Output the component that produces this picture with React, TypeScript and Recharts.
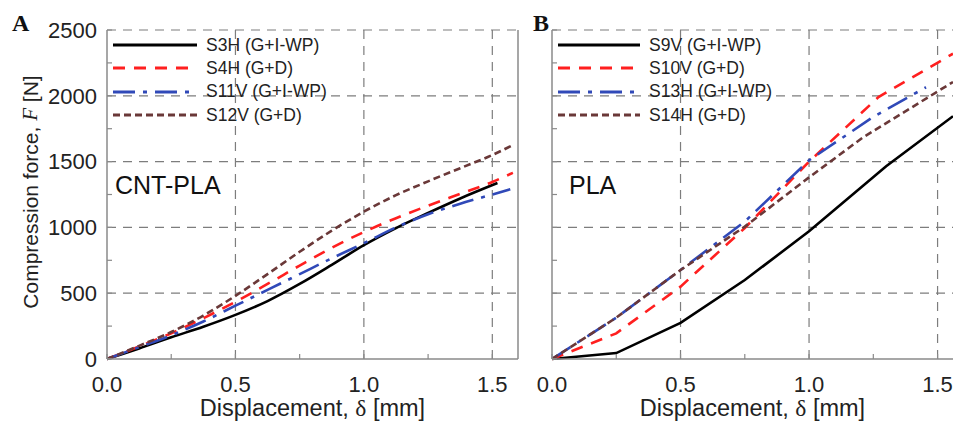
import React from 'react';
import { LineChart, Line, XAxis, YAxis, CartesianGrid, ReferenceLine, Legend, Label } from 'recharts';

// ---------- data ----------
const xTicks = [0, 0.25, 0.5, 0.75, 1, 1.25, 1.5];
const yTicks = [0, 250, 500, 750, 1000, 1250, 1500, 1750, 2000, 2250, 2500];
const gridX = [0.5, 1, 1.5];
const gridY = [500, 1000, 1500, 2000, 2500];

// Panel A: CNT-PLA  [displacement mm, force N]
const S3H = [[0, 0], [0.125, 80], [0.25, 165], [0.375, 245], [0.5, 335], [0.625, 440], [0.75, 570], [0.875, 715], [1.0, 865], [1.125, 995], [1.25, 1110], [1.375, 1220], [1.52, 1337]];
const S4H = [[0, 0], [0.125, 95], [0.25, 195], [0.375, 310], [0.5, 435], [0.625, 570], [0.75, 710], [0.875, 845], [1.0, 965], [1.125, 1070], [1.25, 1165], [1.375, 1255], [1.5, 1345], [1.58, 1415]];
const S11V = [[0, 0], [0.125, 90], [0.25, 180], [0.375, 285], [0.5, 405], [0.625, 525], [0.75, 645], [0.875, 765], [1.0, 880], [1.125, 1000], [1.25, 1100], [1.375, 1180], [1.5, 1250], [1.57, 1290]];
const S12V = [[0, 0], [0.125, 100], [0.25, 205], [0.375, 330], [0.5, 480], [0.625, 645], [0.75, 815], [0.875, 975], [1.0, 1120], [1.125, 1245], [1.25, 1350], [1.375, 1450], [1.5, 1550], [1.58, 1625]];

// Panel B: PLA
const S9V = [[0, 0], [0.25, 45], [0.5, 275], [0.75, 600], [1.0, 970], [1.3, 1465], [1.56, 1845]];
const S10V = [[0, 0], [0.25, 195], [0.5, 550], [0.75, 995], [1.0, 1500], [1.27, 1990], [1.56, 2320]];
const S13H = [[0, 0], [0.25, 314], [0.5, 676], [0.75, 1044], [1.0, 1510], [1.25, 1840], [1.455, 2065]];
const S14H = [[0, 0], [0.25, 314], [0.5, 676], [0.75, 1006], [1.0, 1380], [1.207, 1680], [1.56, 2105]];

const namesA = ['S3H (G+I-WP)', 'S4H (G+D)', 'S11V (G+I-WP)', 'S12V (G+D)'];
const namesB = ['S9V (G+I-WP)', 'S10V (G+D)', 'S13H (G+I-WP)', 'S14H (G+D)'];

// ---------- styles ----------
const colors = ['#000000', '#ff1f1f', '#3049b8', '#6a3838'];
const dashes = ['0', '12 9', '22 8 4 8', '7 4'];
const FONT = 'Liberation Sans, Arial, sans-serif';
const GRID = '#7d7d7d';
const AXIS = '#8a8a8a';

const toPts = (arr: number[][]) => arr.map(([x, y]) => ({ x, y }));

const seriesA = [S3H, S4H, S11V, S12V].map((d, i) => ({ name: namesA[i], data: toPts(d), color: colors[i], dash: dashes[i] }));
const seriesB = [S9V, S10V, S13H, S14H].map((d, i) => ({ name: namesB[i], data: toPts(d), color: colors[i], dash: dashes[i] }));

const fmtX = (v: number) => (Math.abs(v * 2 - Math.round(v * 2)) < 1e-6 ? v.toFixed(1) : '');
const fmtY = (v: number) => (v % 500 === 0 ? String(v) : '');

function LegendBox({ series, lineW }: { series: any[]; lineW: number }) {
  return (
    <div style={{ fontFamily: FONT, fontSize: 17.5, color: '#222', lineHeight: '21px' }}>
      {series.map((s) => (
        <div key={s.name} style={{ display: 'flex', alignItems: 'center', height: 23.3 }}>
          <svg width={lineW} height={6} style={{ display: 'block', flex: 'none' }}>
            <line x1={0} y1={3} x2={lineW} y2={3} stroke={s.color} strokeWidth={3} strokeDasharray={s.dash} />
          </svg>
          <span style={{ marginLeft: 9, whiteSpace: 'nowrap', fontSize: 17.5 }}>{s.name}</span>
        </div>
      ))}
    </div>
  );
}

function XLabel(props: any) {
  const vb = props.viewBox || {};
  const cx = vb.x + vb.width / 2;
  return (
    <text x={cx} y={416} textAnchor="middle" fontFamily={FONT} fontSize={23.5} fill="#222">
      Displacement,{' '}
      <tspan fontFamily="Liberation Serif, Times New Roman, serif">δ</tspan>
      {'  [mm]'}
    </text>
  );
}

function YLabel() {
  return (
    <text x={30} y={192} transform="rotate(-90 30 192)" textAnchor="middle" dominantBaseline="central" fontFamily={FONT} fontSize={21} fill="#222">
      Compression force,{' '}
      <tspan fontFamily="Liberation Serif, Times New Roman, serif" fontStyle="italic">F</tspan>
      {' [N]'}
    </text>
  );
}

function Panel({ series, width, left, yw, xmax, showYLabels, lineType, legendLeft, legendLineW, tag, tagX, name, nameX, rightBorder }: any) {
  return (
    <div style={{ position: 'absolute', left, top: 0 }}>
      <LineChart width={width} height={423} margin={{ top: 30, right: rightBorder ? 12 : 0, bottom: 0, left: 0 }}>
        <CartesianGrid horizontalValues={gridY} verticalValues={gridX} stroke={GRID} strokeWidth={1.2} strokeDasharray="9 7" />
        <XAxis
          type="number"
          dataKey="x"
          domain={[0, xmax]}
          ticks={xTicks}
          tickFormatter={fmtX}
          allowDataOverflow
          height={64}
          tickSize={-5}
          tickMargin={22}
          axisLine={{ stroke: AXIS, strokeWidth: 1.5 }}
          tickLine={{ stroke: AXIS, strokeWidth: 1.2 }}
          tick={{ fontSize: 22, fill: '#222', fontFamily: FONT }}
          interval={0}
        >
          <Label content={<XLabel />} />
        </XAxis>
        <YAxis
          type="number"
          dataKey="y"
          domain={[0, 2500]}
          ticks={yTicks}
          tickFormatter={showYLabels ? fmtY : () => ''}
          width={yw}
          tickSize={-5}
          tickMargin={15}
          axisLine={{ stroke: AXIS, strokeWidth: 1.5 }}
          tickLine={{ stroke: AXIS, strokeWidth: 1.2 }}
          tick={{ fontSize: 22, fill: '#222', fontFamily: FONT }}
          interval={0}
        >
          {showYLabels ? <Label content={<YLabel />} /> : null}
        </YAxis>
        {rightBorder ? <ReferenceLine x={xmax} stroke={AXIS} strokeWidth={1.5} /> : null}
        <Legend
          layout="vertical"
          align="center"
          verticalAlign="middle"
          wrapperStyle={{ position: 'absolute', left: legendLeft, top: 33.5, width: 'auto', height: 'auto' }}
          content={() => <LegendBox series={series} lineW={legendLineW} />}
        />
        {series.map((s: any) => (
          <Line
            key={s.name}
            data={s.data}
            dataKey="y"
            name={s.name}
            type={lineType}
            stroke={s.color}
            strokeWidth={2.6}
            strokeDasharray={s.dash}
            dot={false}
            activeDot={false}
            isAnimationActive={false}
          />
        ))}
        <text x={tagX} y={31} fontFamily="Liberation Serif, Times New Roman, serif" fontWeight="bold" fontSize={24} fill="#111">{tag}</text>
        <text x={nameX} y={194} fontFamily={FONT} fontSize={25} fill="#111">{name}</text>
      </LineChart>
    </div>
  );
}

export default function App() {
  return (
    <div style={{ position: 'relative', width: 953, height: 423, background: '#fff', overflow: 'hidden' }}>
      <style>{'body{margin:0;background:#fff}'}</style>
      <Panel series={seriesA} width={530} left={0} yw={107} xmax={1.6} showYLabels lineType="monotone"
        legendLeft={113} legendLineW={84} tag="A" tagX={12} name="CNT-PLA" nameX={115} rightBorder />
      <Panel series={seriesB} width={433} left={520} yw={32} xmax={1.56} showYLabels={false} lineType="linear"
        legendLeft={38} legendLineW={82} tag="B" tagX={13} name="PLA" nameX={49} rightBorder={false} />
    </div>
  );
}
